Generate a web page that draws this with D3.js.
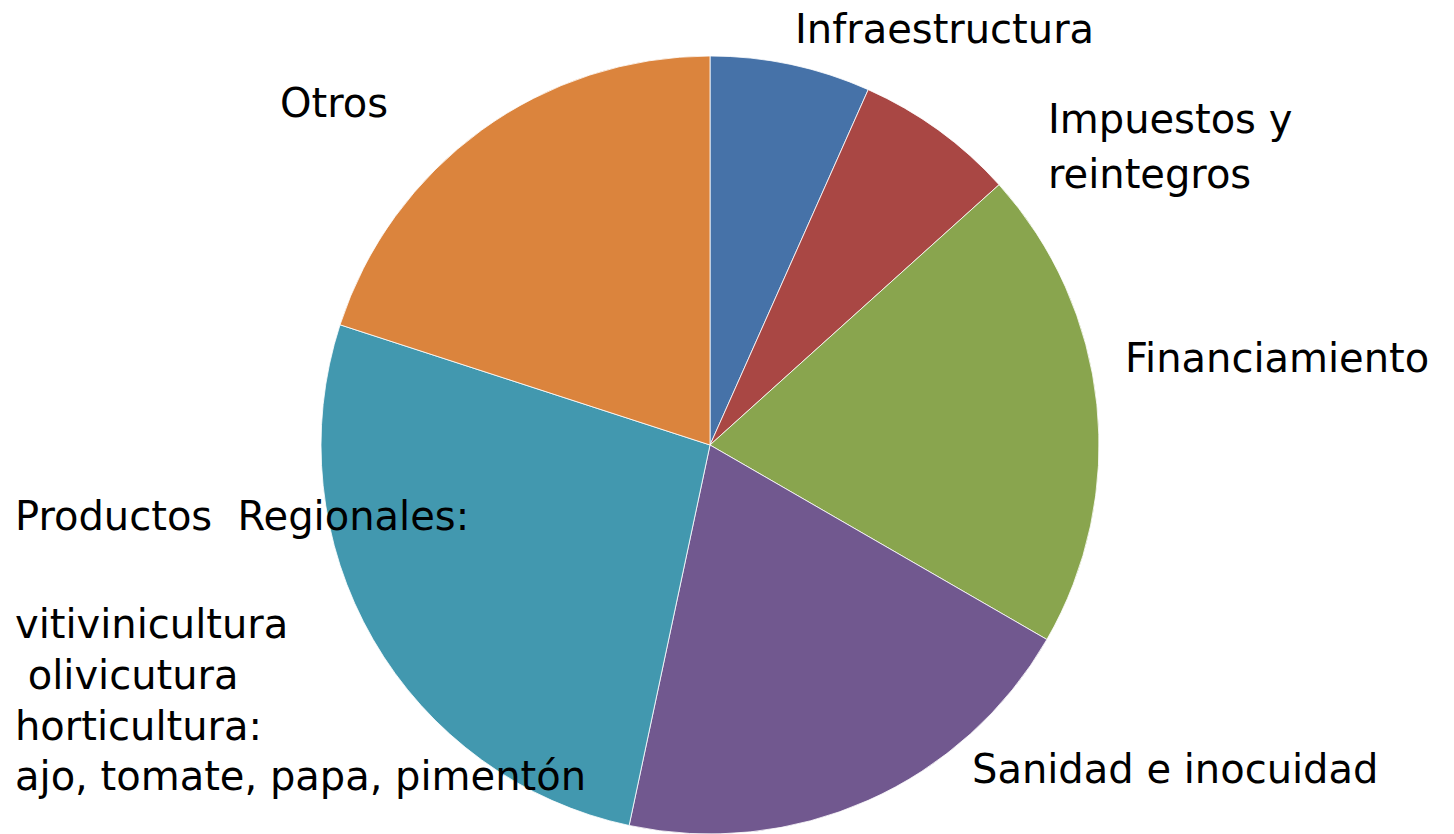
<!DOCTYPE html>
<html>
<head>
  <meta charset="UTF-8">
  <title>Pie</title>
  <script src="https://d3js.org/d3.v7.min.js"></script>
  <style>
    body { margin: 0; background: #fff; }
    .lbl { font-family: "DejaVu Sans", sans-serif; font-size: 40px; fill: #000; }
  </style>
</head>
<body>
<div class="chart"></div>
<script>
  var categories = ['Infraestructura', 'Impuestos y reintegros', 'Financiamiento',
                    'Sanidad e inocuidad', 'Productos Regionales', 'Otros'];
  var values = [1, 1, 3, 3, 4, 3];
  var colors = ['#4672a8', '#a94744', '#89a54e', '#71588f', '#4298af', '#db843d'];
  // label lines per slice
  var labelLines = [
    ['Infraestructura'],
    ['Impuestos y', 'reintegros'],
    ['Financiamiento'],
    ['Sanidad e inocuidad'],
    ['Productos\u00a0\u00a0Regionales:', 'vitivinicultura', '\u00a0olivicutura', 'horticultura:', 'ajo, tomate, papa, pimentón'],
    ['Otros']
  ];

  var width = 1454, height = 834;
  var cx = 710, cy = 445, radius = 389;

  var svg = d3.select('.chart')
    .append('svg')
      .attr('width', width)
      .attr('height', height);

  var pie = d3.pie().sort(null).value(d => d);
  var arc = d3.arc().innerRadius(0).outerRadius(radius);

  var g = svg.append('g')
    .attr('transform', 'translate(' + cx + ',' + cy + ')');

  g.selectAll('path')
    .data(pie(values))
    .enter()
    .append('path')
      .attr('d', arc)
      .attr('fill', (d, i) => colors[i])
      .attr('stroke', '#fff')
      .attr('stroke-width', 0.8);

  // baseline of each line of each label
  var labelPos = [
    {x: 795, ys: [43]},
    {x: 1048, ys: [133, 188]},
    {x: 1125, ys: [372]},
    {x: 972, ys: [783]},
    {x: 15, ys: [530, 638, 689, 740, 790]},
    {x: 280, ys: [117]}
  ];

  labelLines.forEach(function(lines, i) {
    var t = svg.append('text')
      .attr('class', 'lbl');
    lines.forEach(function(s, j) {
      t.append('tspan')
        .attr('x', labelPos[i].x)
        .attr('y', labelPos[i].ys[j])
        .text(s);
    });
  });
</script>
</body>
</html>
